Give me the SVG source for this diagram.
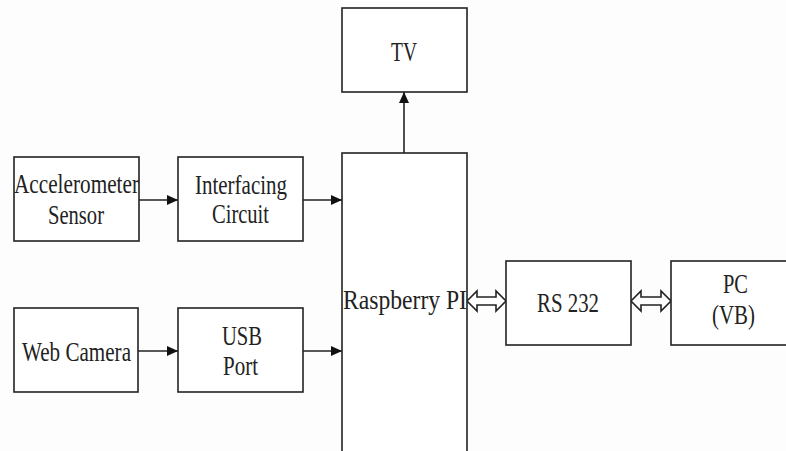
<svg xmlns="http://www.w3.org/2000/svg" width="786" height="451" viewBox="0 0 786 451">
<style>
.box{fill:#fff;stroke:#222;stroke-width:1.6}
.t{font-family:"Liberation Serif","DejaVu Serif",serif;font-size:28px;fill:#222;text-anchor:middle}
.c{stroke:#222;stroke-width:1.6;fill:none}
.d{fill:#fff;stroke:#222;stroke-width:1.6;stroke-linejoin:miter}
</style>
<defs>
<marker id="ah" markerWidth="12" markerHeight="10" refX="11" refY="5" orient="auto" markerUnits="userSpaceOnUse">
<path d="M0,0 L11,5 L0,10 Z" fill="#111"/>
</marker>
</defs>
<rect width="786" height="451" fill="#fdfdfd"/>
<g id="connectors">
<line class="c" x1="139" y1="200" x2="178" y2="200" marker-end="url(#ah)"/>
<line class="c" x1="303" y1="200" x2="342" y2="200" marker-end="url(#ah)"/>
<line class="c" x1="138" y1="351" x2="178" y2="351" marker-end="url(#ah)"/>
<line class="c" x1="303" y1="351" x2="342" y2="351" marker-end="url(#ah)"/>
<line class="c" x1="404" y1="153" x2="404" y2="92" marker-end="url(#ah)"/>
<polygon class="d" points="467,301 477,291 477,297 496,297 496,291 506,301 496,311 496,305 477,305 477,311"/>
<polygon class="d" points="631,301 641,291 641,297 661,297 661,291 671,301 661,311 661,305 641,305 641,311"/>
</g>
<g id="accelerometer">
<rect class="box" x="14" y="157" width="125" height="84"/>
<text class="t" x="76.5" y="193" textLength="125" lengthAdjust="spacingAndGlyphs">Accelerometer</text>
<text class="t" x="76" y="224" textLength="56" lengthAdjust="spacingAndGlyphs">Sensor</text>
</g>
<g id="interfacing">
<rect class="box" x="178" y="157" width="125" height="84"/>
<text class="t" x="241" y="194" textLength="92" lengthAdjust="spacingAndGlyphs">Interfacing</text>
<text class="t" x="240.5" y="223" textLength="57" lengthAdjust="spacingAndGlyphs">Circuit</text>
</g>
<g id="webcamera">
<rect class="box" x="14" y="308" width="124" height="84"/>
<text class="t" x="76.5" y="361" textLength="109" lengthAdjust="spacingAndGlyphs">Web Camera</text>
</g>
<g id="usb">
<rect class="box" x="178" y="308" width="125" height="84"/>
<text class="t" x="242" y="345" textLength="40" lengthAdjust="spacingAndGlyphs">USB</text>
<text class="t" x="240.5" y="375" textLength="35" lengthAdjust="spacingAndGlyphs">Port</text>
</g>
<g id="tv">
<rect class="box" x="342" y="8" width="125" height="84"/>
<text class="t" x="404" y="61" textLength="26" lengthAdjust="spacingAndGlyphs">TV</text>
</g>
<g id="raspberry">
<rect class="box" x="342" y="153" width="125" height="320"/>
<text class="t" x="405" y="309" textLength="124" lengthAdjust="spacingAndGlyphs">Raspberry PI</text>
</g>
<g id="rs232">
<rect class="box" x="506" y="261" width="125" height="84"/>
<text class="t" x="568" y="312" textLength="62" lengthAdjust="spacingAndGlyphs">RS 232</text>
</g>
<g id="pc">
<rect class="box" x="671" y="261" width="130" height="84"/>
<text class="t" x="735.5" y="293" textLength="25" lengthAdjust="spacingAndGlyphs">PC</text>
<text class="t" x="733.5" y="324" textLength="43" lengthAdjust="spacingAndGlyphs">(VB)</text>
</g>
</svg>
